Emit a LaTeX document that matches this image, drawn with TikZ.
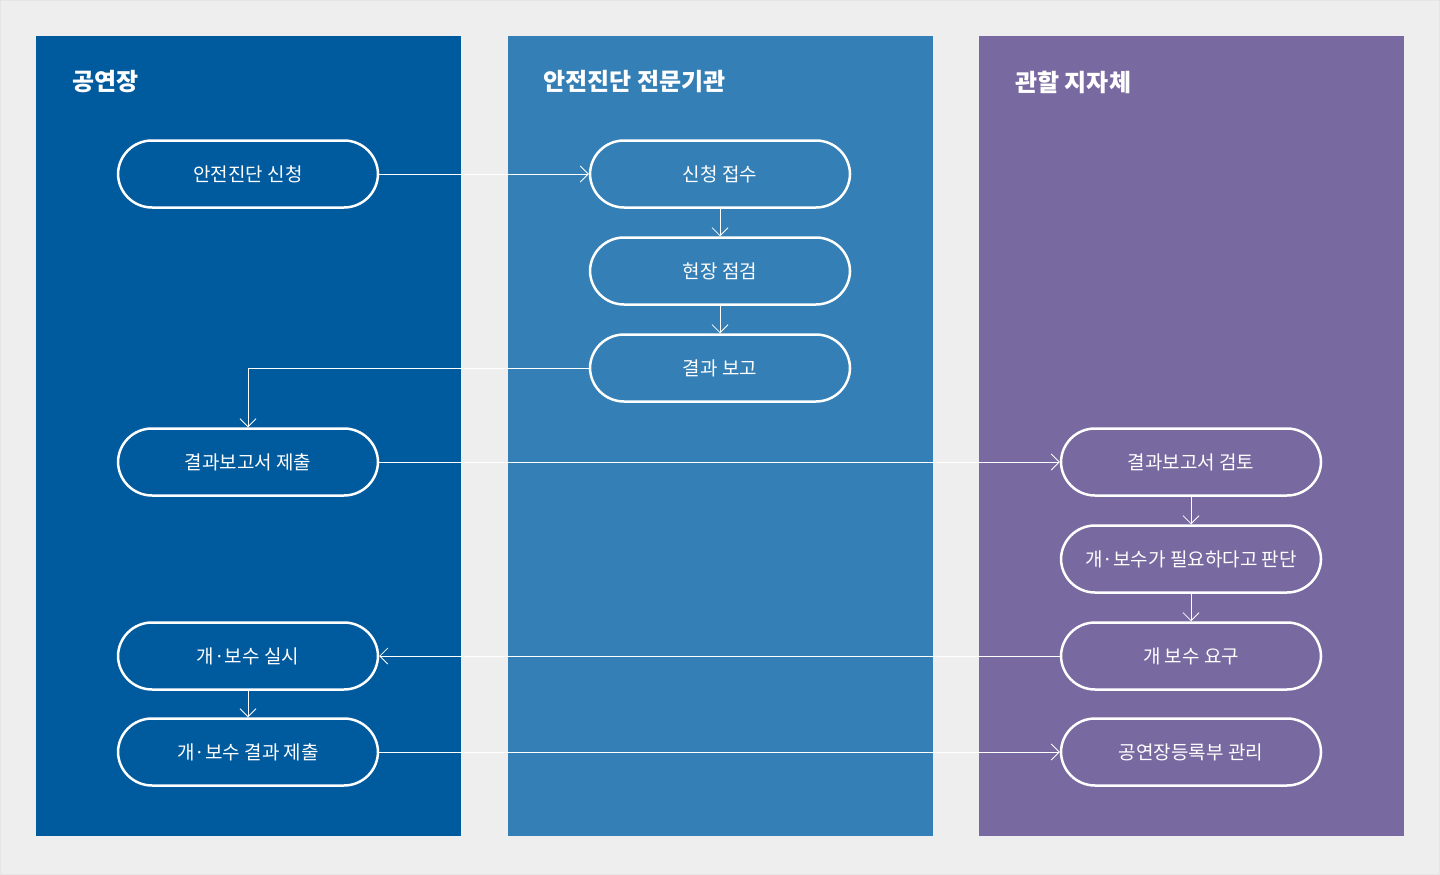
\documentclass[tikz,border=0pt]{standalone}
\usepackage{fontspec}
\newfontfamily\kr{Noto Sans CJK KR}
\usetikzlibrary{arrows.meta}
\definecolor{bgc}{HTML}{EEEEEE}
\definecolor{cA}{HTML}{005A9E}
\definecolor{cB}{HTML}{337FB6}
\definecolor{cC}{HTML}{7869A0}
\begin{document}
\begin{tikzpicture}[x=1pt,y=-1pt,
  pill/.style={draw=white,line width=2.5pt,rounded corners=34pt,minimum width=260pt,minimum height=67pt,text=white,font=\kr\fontsize{19}{22}\selectfont,inner sep=0pt},
  head/.style={anchor=west,text=white,font=\kr\bfseries\fontsize{24}{28}\selectfont,inner sep=0pt},
  conn/.style={draw=white,line width=0.8pt,-{Straight Barb[length=8pt,width=16pt,line width=0.8pt]}}]
\useasboundingbox (0,0) rectangle (1440,875);
\fill[bgc] (0,0) rectangle (1440,875);
\draw[black!10] (0.5,0.5) rectangle (1439.5,874.5);
\fill[cA] (36,36) rectangle (461,836);
\fill[cB] (508,36) rectangle (933,836);
\fill[cC] (979,36) rectangle (1404,836);
\node[head] (h1) at (72,82) {공연장};
\node[head] (h2) at (543,82) {안전진단 전문기관};
\node[head] (h3) at (1015,82) {관할 지자체};
\node[pill] (a1) at (248,174) {안전진단 신청};
\node[pill] (a2) at (248,462) {결과보고서 제출};
\node[pill] (a3) at (248,656) {개·보수 실시};
\node[pill] (a4) at (248,752) {개·보수 결과 제출};
\node[pill] (b1) at (720,174) {신청 접수};
\node[pill] (b2) at (720,271) {현장 점검};
\node[pill] (b3) at (720,368) {결과 보고};
\node[pill] (c1) at (1191,462) {결과보고서 검토};
\node[pill] (c2) at (1191,559) {개·보수가 필요하다고 판단};
\node[pill] (c3) at (1191,656) {개 보수 요구};
\node[pill] (c4) at (1191,752) {공연장등록부 관리};
\draw[conn] (a1) -- (b1);
\draw[conn] (b1) -- (b2);
\draw[conn] (b2) -- (b3);
\draw[conn] (b3.west) -| (a2.north);
\draw[conn] (a2) -- (c1);
\draw[conn] (c1) -- (c2);
\draw[conn] (c2) -- (c3);
\draw[conn] (c3) -- (a3);
\draw[conn] (a3) -- (a4);
\draw[conn] (a4) -- (c4);
\end{tikzpicture}
\end{document}
